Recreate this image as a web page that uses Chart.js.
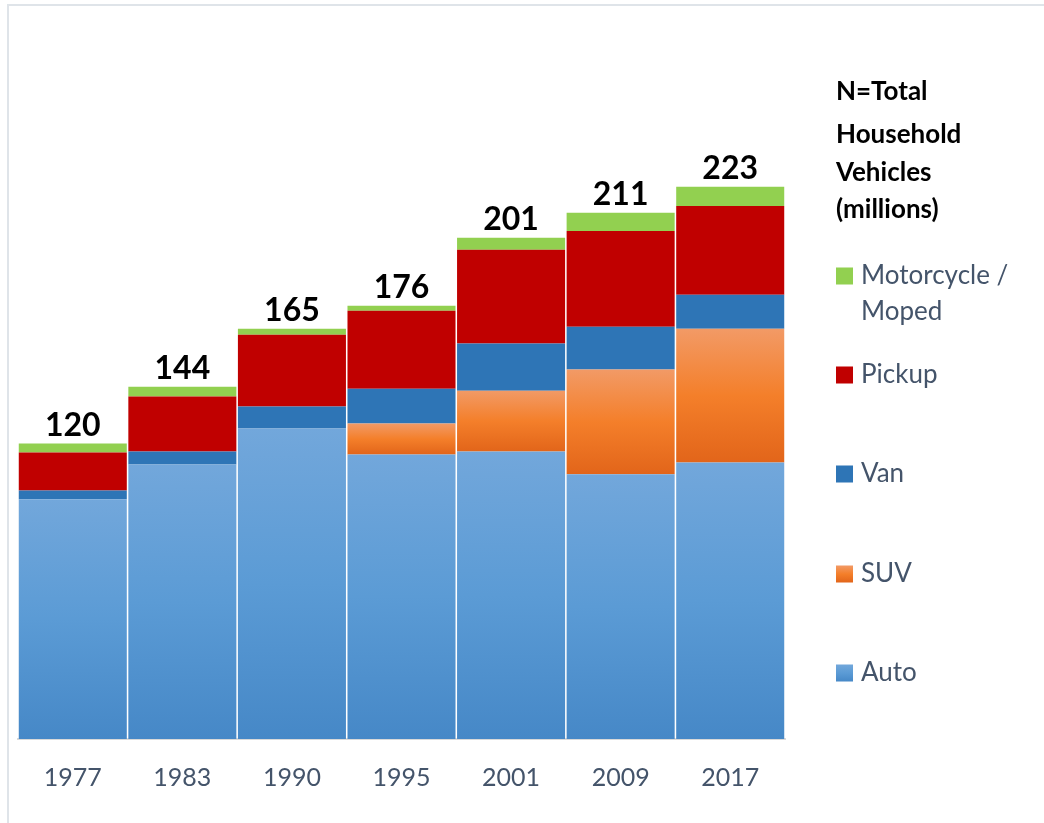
<!DOCTYPE html>
<html>
<head>
<meta charset="utf-8">
<script src="https://cdn.jsdelivr.net/npm/chart.js@4"></script>
<style>
	body { margin: 0; background: #ffffff; }
	canvas { display: block; }
</style>
</head>
<body>
<canvas id="chart" width="1044" height="823"></canvas>
<script>
// survey years and vehicle counts (millions)
const years = ["1977", "1983", "1990", "1995", "2001", "2009", "2017"];
const auto = [96.8, 110.9, 125.4, 114.9, 116.1, 106.9, 111.7];
const suv = [0, 0, 0, 12.5, 24.6, 42.3, 54.0];
const van = [3.6, 5.2, 8.9, 14.1, 19.0, 17.3, 13.7];
const pickup = [15.3, 22.2, 29.0, 31.5, 37.9, 38.7, 35.9];
const moto = [3.6, 4.0, 2.4, 2.0, 4.8, 7.3, 7.7];
const totals = ["120", "144", "165", "176", "201", "211", "223"];

const seriesNames = ["Auto", "SUV", "Van", "Pickup", "Motorcycle / Moped"];
const legendTitle = ["N=Total", "Household", "Vehicles", "(millions)"];

const allSeries = [auto, suv, van, pickup, moto];
const autoStops = ["#72a7db", "#5b9bd5", "#4688c7"];
const suvStops = ["#f29a66", "#f47f2a", "#e2651a"];

// gradient per segment, top to bottom, like the office fill
function segmentGradient (context, stops) {
	const chart = context.chart;
	const yScale = chart.scales.y;
	if (!chart.chartArea || !yScale) {
		return stops[1];
	}
	const ds = context.datasetIndex;
	const i = context.dataIndex;
	let base = 0;
	for (let k = 0; k < ds; k++) {
		base += allSeries[k][i];
	}
	const top = base + allSeries[ds][i];
	const y0 = yScale.getPixelForValue(top);
	const y1 = yScale.getPixelForValue(base);
	if (!(y1 > y0)) {
		return stops[1];
	}
	const g = chart.ctx.createLinearGradient(0, y0, 0, y1);
	g.addColorStop(0, stops[0]);
	g.addColorStop(0.5, stops[1]);
	g.addColorStop(1, stops[2]);
	return g;
}

const frame = {
	id: "frame",
	beforeDraw (chart) {
		const ctx = chart.ctx;
		ctx.save();
		ctx.strokeStyle = "#dfe4e9";
		ctx.lineWidth = 2;
		ctx.beginPath();
		ctx.moveTo(8, 823);
		ctx.lineTo(8, 5);
		ctx.lineTo(1044, 5);
		ctx.stroke();
		ctx.restore();
	}
};

const totalLabels = {
	id: "totalLabels",
	afterDatasetsDraw (chart) {
		const ctx = chart.ctx;
		const topMeta = chart.getDatasetMeta(chart.data.datasets.length - 1);
		ctx.save();
		ctx.font = "bold 32px Lato, 'Noto Sans', sans-serif";
		ctx.fillStyle = "#000000";
		ctx.textAlign = "center";
		ctx.textBaseline = "alphabetic";
		topMeta.data.forEach((bar, i) => {
			ctx.fillText(totals[i], bar.x, bar.y - 8);
		});
		ctx.restore();
	}
};

const sideLegend = {
	id: "sideLegend",
	afterDraw (chart) {
		const ctx = chart.ctx;
		const x = 836;
		ctx.save();
		ctx.textAlign = "left";
		ctx.textBaseline = "middle";
		ctx.fillStyle = "#000000";
		ctx.font = "bold 26px Lato, 'Noto Sans', sans-serif";
		const titleY = [92, 135, 173, 210];
		legendTitle.forEach((line, i) => ctx.fillText(line, x, titleY[i]));

		// items listed top-down, reverse of stacking order
		const itemY = [276, 375, 474, 574, 673];
		ctx.font = "26px Lato, 'Noto Sans', sans-serif";
		const datasets = chart.data.datasets;
		for (let n = 0; n < datasets.length; n++) {
			const dsIndex = datasets.length - 1 - n;
			const ds = datasets[dsIndex];
			const cy = itemY[n];
			let fill = ds.legendColor;
			if (Array.isArray(fill)) {
				const g = ctx.createLinearGradient(0, cy - 8.5, 0, cy + 8.5);
				g.addColorStop(0, fill[0]);
				g.addColorStop(0.5, fill[1]);
				g.addColorStop(1, fill[2]);
				fill = g;
			}
			ctx.fillStyle = fill;
			ctx.fillRect(x, cy - 8.5, 17, 17);
			ctx.fillStyle = "#44546a";
			const words = ds.label.split(" / ");
			if (words.length > 1) {
				ctx.fillText(words[0] + " /", x + 25, cy);
				ctx.fillText(words[1], x + 25, cy + 36);
			}
			else {
				ctx.fillText(ds.label, x + 25, cy);
			}
		}
		ctx.restore();
	}
};

new Chart(document.getElementById("chart"), {
	type: "bar",
	data: {
		labels: years,
		datasets: [
			{
				label: seriesNames[0],
				data: auto,
				backgroundColor: (c) => segmentGradient(c, autoStops),
				legendColor: autoStops
			},
			{
				label: seriesNames[1],
				data: suv,
				backgroundColor: (c) => segmentGradient(c, suvStops),
				legendColor: suvStops
			},
			{
				label: seriesNames[2],
				data: van,
				backgroundColor: "#2e75b6",
				legendColor: "#2e75b6"
			},
			{
				label: seriesNames[3],
				data: pickup,
				backgroundColor: "#c00000",
				legendColor: "#c00000"
			},
			{
				label: seriesNames[4],
				data: moto,
				backgroundColor: "#92d050",
				legendColor: "#92d050"
			}
		]
	},
	options: {
		responsive: false,
		animation: false,
		datasets: {
			bar: {
				categoryPercentage: 1,
				barPercentage: 0.986,
				borderWidth: 0
			}
		},
		layout: {
			padding: { left: 18, right: 259, top: 120, bottom: 6 }
		},
		scales: {
			x: {
				stacked: true,
				grid: { display: false, drawTicks: false },
				border: { display: true, color: "#d9d9d9", width: 2 },
				ticks: {
					padding: 24,
					color: "#44546a",
					font: { family: "Lato, 'Noto Sans', sans-serif", size: 25 }
				}
			},
			y: {
				stacked: true,
				display: false,
				min: 0,
				max: 250
			}
		},
		plugins: {
			legend: { display: false },
			tooltip: { enabled: false }
		}
	},
	plugins: [frame, totalLabels, sideLegend]
});
</script>
</body>
</html>
